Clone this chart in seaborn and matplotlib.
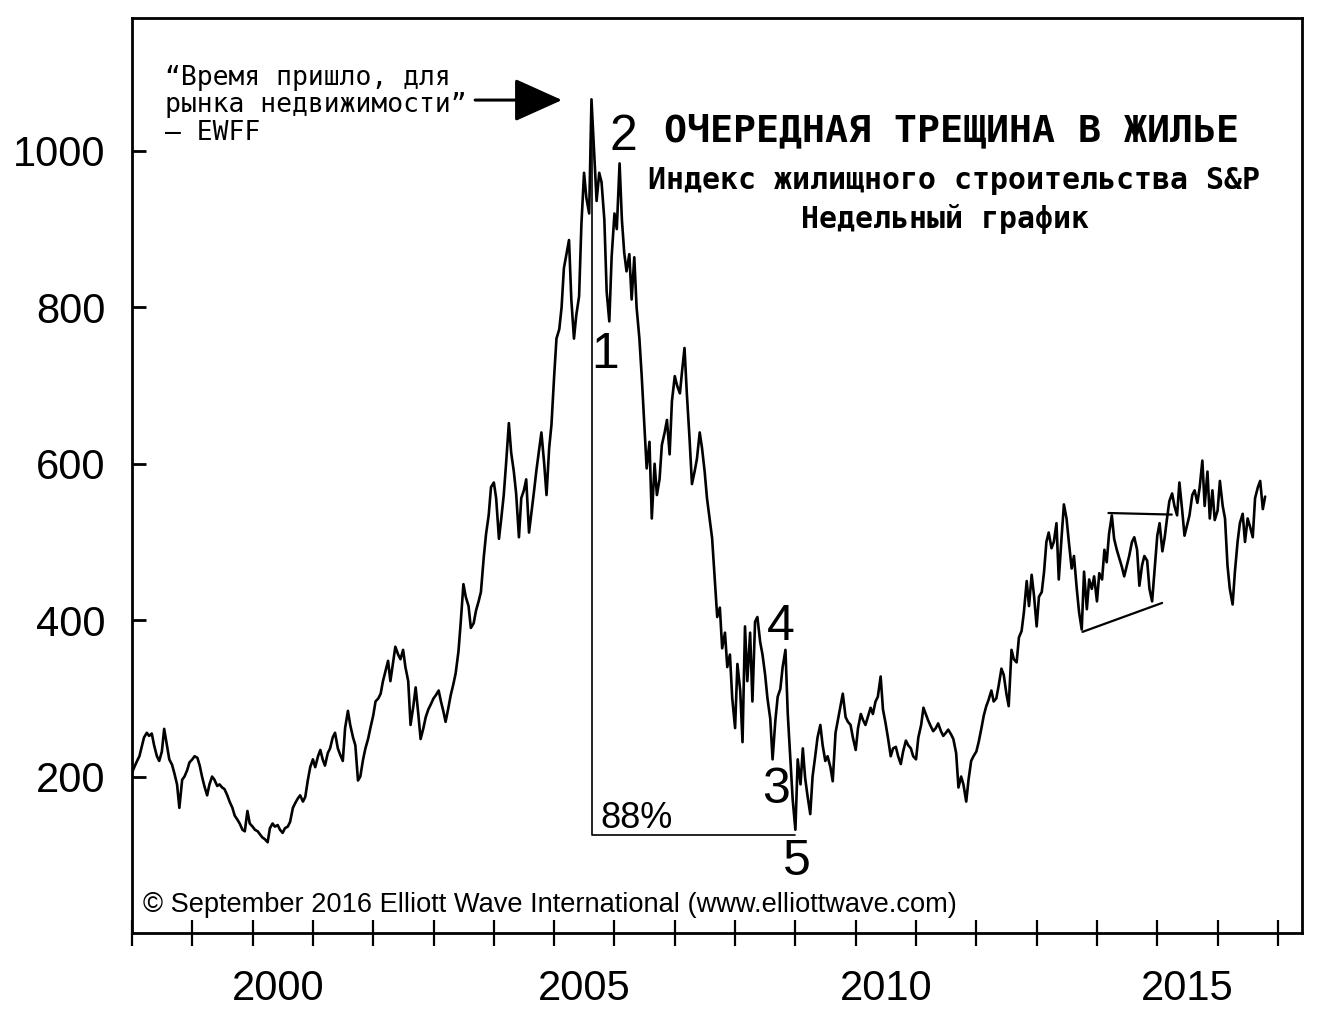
# Индекс жилищного строительства S&P, недельный график (1998-2016)
import numpy as np
import pandas as pd
import seaborn as sns
import matplotlib.pyplot as plt
from matplotlib.ticker import FixedLocator, NullFormatter, FixedFormatter

# значения индекса, по два на месяц (1-е и 15-е число)
v1998 = [205, 212, 220, 226, 238, 250, 256, 252, 255, 240, 226, 220, 232, 261, 240, 222, 215, 204, 190, 160, 196, 200, 208, 218]
v1999 = [222, 226, 224, 214, 200, 188, 176, 190, 200, 196, 188, 190, 186, 184, 176, 168, 160, 150, 145, 140, 132, 130, 156, 140]
v2000 = [136, 132, 130, 126, 122, 120, 116, 134, 140, 136, 138, 132, 128, 134, 136, 142, 160, 166, 172, 176, 168, 174, 196, 212]
v2001 = [222, 212, 226, 234, 222, 214, 230, 236, 250, 256, 236, 228, 220, 262, 284, 266, 250, 240, 195, 200, 222, 236, 248, 262]
v2002 = [278, 296, 300, 306, 322, 334, 348, 322, 345, 366, 356, 350, 362, 340, 322, 266, 290, 314, 280, 248, 262, 276, 286, 292]
v2003 = [300, 304, 310, 296, 284, 270, 288, 304, 318, 332, 360, 398, 446, 430, 418, 390, 396, 412, 424, 436, 480, 510, 534, 570]
v2004 = [576, 556, 504, 530, 560, 600, 652, 614, 590, 562, 506, 556, 566, 580, 512, 536, 566, 592, 618, 640, 600, 560, 620, 650]
v2005 = [712, 760, 772, 800, 850, 866, 886, 810, 760, 790, 814, 906, 972, 940, 920, 1066, 996, 936, 972, 960, 912, 820, 782, 864]
v2006 = [920, 900, 984, 912, 870, 846, 868, 810, 864, 800, 760, 712, 650, 594, 628, 530, 600, 560, 580, 624, 640, 656, 612, 680]
v2007 = [712, 700, 690, 720, 748, 690, 630, 574, 590, 606, 640, 620, 590, 556, 528, 505, 450, 404, 416, 364, 384, 340, 356, 300]
v2008 = [262, 344, 310, 244, 392, 322, 384, 296, 398, 404, 372, 356, 330, 300, 274, 222, 272, 302, 312, 340, 362, 280, 220, 170]
v2009 = [132, 222, 190, 236, 198, 176, 152, 200, 226, 250, 266, 240, 220, 226, 212, 194, 256, 272, 290, 306, 276, 270, 266, 250]
v2010 = [234, 262, 280, 272, 266, 276, 288, 280, 296, 302, 328, 286, 268, 250, 226, 236, 238, 226, 216, 232, 246, 240, 236, 226]
v2011 = [222, 250, 266, 288, 280, 272, 264, 258, 262, 268, 258, 252, 256, 260, 254, 248, 230, 186, 200, 190, 168, 196, 220, 226]
v2012 = [232, 244, 262, 278, 290, 298, 310, 296, 300, 316, 338, 330, 306, 290, 362, 350, 346, 378, 386, 410, 450, 418, 458, 432]
v2013 = [392, 430, 436, 462, 500, 512, 492, 500, 524, 452, 506, 548, 530, 500, 466, 482, 440, 410, 388, 462, 414, 452, 440, 456]
v2014 = [424, 460, 452, 490, 474, 510, 534, 504, 490, 480, 468, 456, 470, 482, 500, 506, 490, 444, 470, 482, 476, 440, 424, 462]
v2015 = [508, 524, 488, 506, 530, 552, 562, 546, 534, 576, 540, 508, 522, 534, 560, 566, 550, 570, 604, 546, 590, 530, 566, 528]
v2016 = [540, 578, 546, 530, 470, 440, 420, 462, 500, 524, 536, 500, 530, 520, 506, 556, 570, 578, 542, 558]

# разметка волн (год, значение)
wave_labels = ['1', '2', '3', '4', '5']
wave_x = [2005.85, 2006.15, 2008.68, 2008.76, 2009.02]
wave_y = [739, 1018, 183, 391, 91]

# линии треугольника 2013-2015
tri_top_x = [2014.19, 2015.24]
tri_top_y = [537, 535]
tri_bot_x = [2013.76, 2015.08]
tri_bot_y = [385, 422]

# 88% падение: от пика до дна
drop_x = [2005.63, 2005.63, 2009.0]
drop_y = [1060, 125, 125]

year_labels = ['2000', '2005', '2010', '2015']
y_ticks = [200, 400, 600, 800, 1000]

values = (v1998 + v1999 + v2000 + v2001 + v2002 + v2003 + v2004 + v2005 + v2006 + v2007
          + v2008 + v2009 + v2010 + v2011 + v2012 + v2013 + v2014 + v2015 + v2016)
dates = pd.date_range('1998-01-01', periods=len(values), freq='SMS')
df = pd.DataFrame({'year': dates.year + (dates.dayofyear - 1) / 365.25, 'index': values})

sns.set_style('white')
plt.rcParams['font.family'] = ['Liberation Sans', 'DejaVu Sans']
plt.rcParams['text.color'] = 'black'
mono = 'DejaVu Sans Mono'

fig = plt.figure(figsize=(13.29, 10.14), dpi=100)
ax = fig.add_axes([0.0993, 0.0799, 0.8804, 0.9024])

sns.lineplot(data=df, x='year', y='index', color='black', lw=1.9, ax=ax)

ax.set_xlim(1998.0, 2017.4)
ax.set_ylim(0, 1170)
ax.set_xlabel('')
ax.set_ylabel('')

for s in ax.spines.values():
    s.set_visible(True)
    s.set_color('black')
    s.set_linewidth(2)

# годы: деления на границах, подписи в середине года
ax.xaxis.set_major_locator(FixedLocator(list(range(1998, 2018))))
ax.xaxis.set_major_formatter(NullFormatter())
ax.xaxis.set_minor_locator(FixedLocator([2000.42, 2005.5, 2010.5, 2015.5]))
ax.xaxis.set_minor_formatter(FixedFormatter(year_labels))
ax.tick_params(axis='x', which='major', direction='inout', length=19, width=1.6, color='black', bottom=True)
ax.tick_params(axis='x', which='minor', length=0, pad=26, labelsize=30, labelcolor='black', bottom=True)

ax.set_yticks(y_ticks)
ax.set_yticklabels([str(t) for t in y_ticks])
ax.tick_params(axis='y', direction='in', length=10, width=2, color='black', pad=19, labelsize=30,
               labelcolor='black', left=True)

# линии разметки
ax.plot(drop_x, drop_y, color='black', lw=1.2)
ax.plot(tri_top_x, tri_top_y, color='black', lw=1.6)
ax.plot(tri_bot_x, tri_bot_y, color='black', lw=1.6)

for lab, x, y in zip(wave_labels, wave_x, wave_y):
    ax.text(x, y, lab, fontsize=36, ha='center', va='center', color='black')
ax.text(2005.76, 147, '88%', fontsize=26, ha='left', va='center', color='black')

# цитата со стрелкой
quote = ['“Время пришло, для', 'рынка недвижимости”', '— EWFF']
for line, yy in zip(quote, [0.934, 0.905, 0.874]):
    ax.text(0.028, yy, line, transform=ax.transAxes, family=mono, fontsize=19,
            ha='left', va='center')
ax.annotate('', xy=(2005.13, 1065), xytext=(2003.69, 1065),
            arrowprops=dict(arrowstyle='-|>,head_length=0.6,head_width=0.27', color='black',
                            lw=2.2, mutation_scale=50, shrinkA=0, shrinkB=0))

# заголовки
ax.text(0.700, 0.8765, 'ОЧЕРЕДНАЯ ТРЕЩИНА В ЖИЛЬЕ', transform=ax.transAxes, family=mono,
        weight='bold', fontsize=27.5, ha='center', va='center')
ax.text(0.7026, 0.8219, 'Индекс жилищного строительства S&P', transform=ax.transAxes, family=mono,
        weight='bold', fontsize=21.5, ha='center', va='center')
ax.text(0.695, 0.780, 'Недельный график', transform=ax.transAxes, family=mono,
        weight='bold', fontsize=21.5, ha='center', va='center')

ax.text(0.0094, 0.0306, '© September 2016 Elliott Wave International (www.elliottwave.com)',
        transform=ax.transAxes, fontsize=19.6, ha='left', va='center')

fig.savefig('out.png', dpi=100)
